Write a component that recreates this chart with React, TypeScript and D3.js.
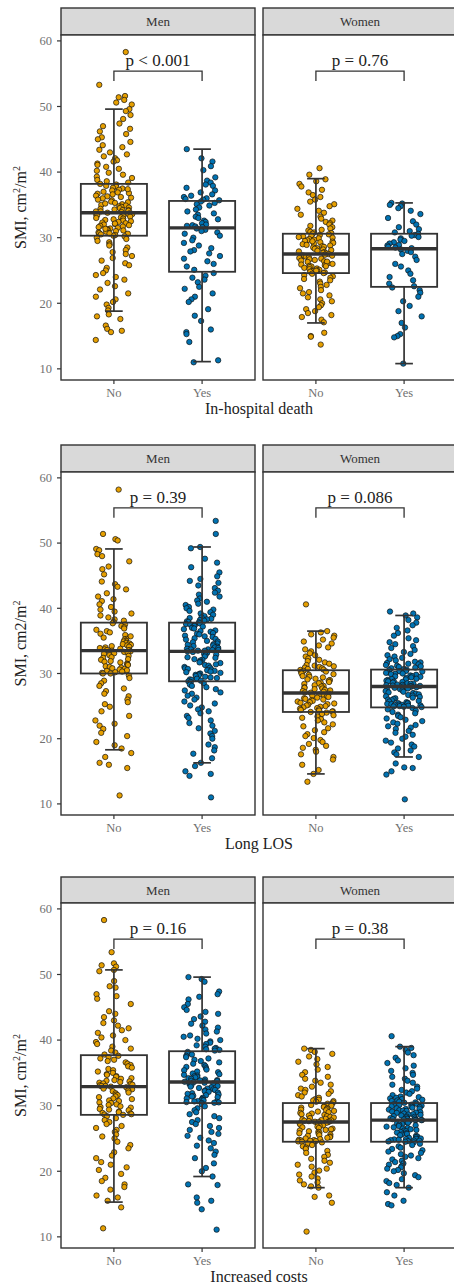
import React from "react";
import * as d3 from "d3";

// ---------- data ----------
const categories = ["No", "Yes"];
const facets = ["Men", "Women"];
const yTicks = [10, 20, 30, 40, 50, 60];
const fills = ["#E69F00", "#0072B2"];

// In-hospital death
const deathMenNo = [58.3, 53.3, 51.6, 51.4, 51.0, 50.6, 50.3, 49.6, 49.3, 48.7, 48.1, 47.4, 47.0, 46.6, 46.2, 45.8, 45.3, 45.0, 44.6, 44.1, 43.8, 43.4, 43.0, 42.7, 42.4, 42.1,
  41.8, 41.6, 41.3, 41.1, 40.8, 40.5, 40.2, 39.9, 39.6, 39.3, 39.1, 38.8, 38.6, 38.4,
  38.2, 38.1, 37.9, 37.8, 37.6, 37.5, 37.3, 37.2, 37.0, 36.9, 36.7, 36.6, 36.4, 36.3, 36.1, 36.0, 35.8, 35.7, 35.5, 35.4, 35.3, 35.1, 35.0, 34.9, 34.8, 34.7, 34.6, 34.5, 34.4, 34.3, 34.2, 34.2, 34.1, 34.0, 34.0, 33.9, 35.2, 36.2, 36.8, 37.4,
  33.8, 33.7, 33.6, 33.6, 33.5, 33.4, 33.3, 33.2, 33.1, 33.0, 32.9, 32.8, 32.7, 32.6, 32.5, 32.4, 32.3, 32.2, 32.1, 32.0, 31.9, 31.8, 31.7, 31.6, 31.5, 31.4, 31.3, 31.2, 31.1, 31.0, 30.9, 30.8, 30.7, 30.6, 30.5, 30.4, 30.3, 32.15, 31.35, 30.65,
  30.2, 30.0, 29.8, 29.5, 29.3, 29.0, 28.8, 28.5, 28.1, 27.8, 27.5, 27.2, 26.9, 26.5, 26.1, 25.8, 25.4, 25.0, 24.6, 24.3, 24.0, 23.6, 23.1, 22.6, 22.1, 21.5, 21.0, 20.6, 20.2, 19.8, 19.3, 18.9, 18.3, 18.0, 17.6, 16.6, 16.1, 15.8, 15.6, 14.4];
const deathMenYes = [43.5, 42.1, 41.6, 40.9, 40.3, 39.2, 38.7, 38.4, 38.1, 37.9, 37.6, 37.2, 36.9, 36.6, 36.4, 36.2, 36.0, 35.9, 35.8, 35.7,
  35.5, 35.3, 35.1, 34.9, 34.6, 34.3, 34.0, 33.7, 33.5, 33.2, 33.0, 32.8, 32.6, 32.4, 32.2, 32.0, 31.9, 31.8, 31.7, 31.6,
  31.4, 31.2, 31.0, 30.8, 30.6, 30.3, 30.0, 29.6, 29.2, 28.8, 28.4, 28.1, 27.9, 27.6, 27.2, 26.8, 26.4, 26.0, 25.6, 25.1,
  24.6, 24.2, 23.9, 23.6, 23.2, 22.5, 22.2, 21.5, 21.0, 20.6, 20.2, 19.1, 18.1, 17.3, 16.0, 15.6, 15.3, 14.1, 11.3, 11.0];
const deathWomenNo = [40.6, 39.6, 38.9, 38.6, 38.2, 37.8, 37.3, 36.9, 36.5, 36.2, 35.8, 35.5, 35.1, 34.8, 34.4, 34.1, 33.8, 33.5, 33.2, 32.9, 32.6, 32.4, 32.2, 32.0, 31.8, 31.6, 31.4, 31.2, 31.1, 30.9, 30.8, 30.7,
  30.6, 30.5, 30.4, 30.3, 30.2, 30.1, 30.0, 29.9, 29.8, 29.7, 29.6, 29.5, 29.4, 29.3, 29.2, 29.1, 29.0, 28.9, 28.8, 28.7, 28.6, 28.5, 28.4, 28.3, 28.2, 28.1, 28.0, 27.9, 27.8, 27.7, 27.6, 27.5, 29.45,
  27.4, 27.3, 27.2, 27.1, 27.0, 26.9, 26.8, 26.7, 26.6, 26.5, 26.4, 26.3, 26.2, 26.1, 26.0, 25.9, 25.8, 25.7, 25.6, 25.5, 25.4, 25.3, 25.2, 25.1, 25.0, 24.9, 24.8, 24.7, 24.6, 26.35, 25.65, 24.95, 27.25,
  24.5, 24.3, 24.1, 23.9, 23.7, 23.5, 23.3, 23.0, 22.8, 22.5, 22.3, 22.0, 21.7, 21.5, 21.2, 20.9, 20.6, 20.3, 20.0, 19.7, 19.4, 19.1, 18.8, 18.5, 18.2, 17.9, 17.5, 17.1, 15.5, 15.0, 14.9, 13.7];
const deathWomenYes = [35.3, 35.2, 35.0, 34.8, 34.5, 34.1, 33.6, 33.0, 32.5, 32.0, 31.6, 31.3, 31.0, 30.8,
  30.6, 30.4, 30.3, 30.1, 29.9, 29.7, 29.5, 29.3, 29.1, 28.9, 28.8, 28.6, 28.5, 28.4,
  28.2, 28.0, 27.8, 27.5, 27.1, 26.6, 26.0, 25.6, 25.0, 24.5, 24.0, 23.5, 23.0, 22.6,
  22.4, 22.0, 21.6, 21.0, 20.3, 19.6, 18.8, 18.0, 17.0, 16.3, 15.3, 15.0, 14.8, 10.8];

// Long LOS
const losMenNo = [58.2, 51.4, 50.6, 50.4, 49.1, 48.9, 48.3, 48.0, 47.2, 46.4, 46.0, 45.2, 44.1, 43.7, 43.3, 42.9, 42.3, 41.8, 41.4, 41.1, 40.6, 40.2, 39.8, 39.5, 39.2, 38.9, 38.6, 38.3, 38.1, 37.9,
  37.7, 37.5, 37.3, 37.1, 36.9, 36.7, 36.5, 36.3, 36.1, 35.9, 35.7, 35.5, 35.3, 35.2, 35.0, 34.9, 34.7, 34.6, 34.5, 34.4, 34.3, 34.2, 34.1, 34.0, 33.9, 33.8, 33.7, 33.6, 33.6, 33.5,
  33.4, 33.3, 33.2, 33.1, 33.0, 32.8, 32.7, 32.5, 32.4, 32.2, 32.1, 31.9, 31.8, 31.7, 31.5, 31.4, 31.3, 31.1, 31.0, 30.9, 30.8, 30.7, 30.6, 30.5, 30.4, 30.3, 30.2, 30.1, 30.0, 30.0,
  29.7, 29.3, 28.9, 28.5, 28.1, 27.7, 27.3, 26.9, 26.5, 26.0, 25.6, 25.3, 24.9, 24.2, 23.5, 22.8, 22.3, 22.0, 21.5, 20.9, 20.4, 19.5, 19.0, 18.5, 17.8, 17.2, 16.3, 16.0, 15.5, 11.3];
const losMenYes = [53.4, 51.4, 49.4, 49.2, 47.6, 47.0, 46.3, 45.5, 44.9, 44.5, 44.2, 43.9, 43.5, 43.1, 42.7, 42.4, 42.1, 41.8, 41.5, 41.2, 41.0, 40.7, 40.5, 40.2, 40.0, 39.8, 39.6, 39.4, 39.2, 39.0, 38.8, 38.6, 38.5, 38.4, 38.3, 38.2, 38.1, 38.0, 37.9, 37.85,
  37.7, 37.6, 37.5, 37.4, 37.3, 37.2, 37.0, 36.9, 36.8, 36.6, 36.5, 36.4, 36.2, 36.1, 36.0, 35.8, 35.7, 35.6, 35.4, 35.3, 35.2, 35.0, 34.9, 34.8, 34.6, 34.5, 34.4, 34.3, 34.2, 34.1, 34.0, 33.9, 33.8, 33.7, 33.7, 33.6, 33.6, 33.5, 33.5, 33.4,
  33.3, 33.2, 33.0, 32.9, 32.8, 32.6, 32.5, 32.4, 32.2, 32.1, 32.0, 31.8, 31.7, 31.6, 31.4, 31.3, 31.2, 31.0, 30.9, 30.8, 30.7, 30.6, 30.5, 30.4, 30.3, 30.2, 30.1, 30.0, 29.9, 29.8, 29.7, 29.6, 29.5, 29.4, 29.3, 29.2, 29.1, 29.0, 28.9, 28.8,
  28.7, 28.5, 28.3, 28.1, 27.9, 27.6, 27.4, 27.1, 26.9, 26.6, 26.3, 26.0, 25.7, 25.4, 25.1, 24.8, 24.5, 24.2, 23.9, 23.5, 23.2, 22.8, 22.4, 22.0, 21.6, 21.2, 20.8, 20.4, 20.0, 19.1, 18.7, 18.2, 17.7, 17.0, 16.3, 15.8, 15.0, 14.6, 14.3, 11.0];
const losWomenNo = [40.6, 36.5, 36.3, 36.0, 35.8, 35.5, 35.2, 34.9, 34.6, 34.3, 34.0, 33.7, 33.4, 33.1, 32.8, 32.6, 32.3, 32.1, 31.9, 31.7, 31.5, 31.3, 31.2, 31.1, 31.0, 30.9, 30.8, 30.7, 30.6, 30.55,
  30.4, 30.3, 30.2, 30.0, 29.9, 29.8, 29.6, 29.5, 29.4, 29.2, 29.1, 29.0, 28.9, 28.7, 28.6, 28.5, 28.4, 28.2, 28.1, 28.0, 27.9, 27.8, 27.7, 27.6, 27.5, 27.4, 27.3, 27.2, 27.1, 27.05,
  26.9, 26.8, 26.7, 26.6, 26.5, 26.4, 26.3, 26.2, 26.1, 26.0, 25.9, 25.8, 25.7, 25.6, 25.5, 25.4, 25.3, 25.2, 25.1, 25.0, 24.9, 24.8, 24.7, 24.6, 24.5, 24.4, 24.3, 24.2, 24.15, 24.1,
  24.0, 23.8, 23.6, 23.4, 23.2, 23.0, 22.8, 22.5, 22.2, 21.9, 21.6, 21.3, 21.0, 20.7, 20.4, 20.1, 19.8, 19.5, 19.2, 18.9, 18.6, 18.3, 18.0, 17.6, 17.2, 16.8, 16.0, 15.2, 14.6, 13.4];
const losWomenYes = [39.5, 39.2, 38.9, 38.6, 38.2, 37.8, 37.4, 37.0, 36.6, 36.2, 35.8, 35.4, 35.1, 34.8, 34.5, 34.2, 33.9, 33.6, 33.3, 33.0, 32.8, 32.6, 32.4, 32.2, 32.0, 31.8, 31.7, 31.6, 31.5, 31.4, 31.3, 31.2, 31.1, 31.0, 30.9, 30.8, 30.7,
  30.6, 30.5, 30.4, 30.35, 30.3, 30.2, 30.1, 30.0, 29.95, 29.9, 29.8, 29.7, 29.6, 29.55, 29.5, 29.4, 29.3, 29.2, 29.15, 29.1, 29.0, 28.9, 28.8, 28.75, 28.7, 28.6, 28.5, 28.45, 28.4, 28.3, 28.25, 28.2, 28.15, 28.1, 28.05, 28.0, 28.0, 28.0,
  27.9, 27.8, 27.7, 27.6, 27.5, 27.4, 27.3, 27.2, 27.1, 27.0, 26.9, 26.8, 26.7, 26.6, 26.5, 26.4, 26.3, 26.2, 26.1, 26.0, 25.9, 25.8, 25.7, 25.6, 25.5, 25.45, 25.4, 25.35, 25.3, 25.25, 25.2, 25.15, 25.1, 25.05, 25.0, 24.95, 24.9, 24.85,
  24.7, 24.5, 24.3, 24.1, 23.9, 23.7, 23.5, 23.3, 23.1, 22.9, 22.7, 22.5, 22.3, 22.1, 21.9, 21.7, 21.5, 21.2, 20.9, 20.6, 20.3, 20.0, 19.7, 19.4, 19.1, 18.8, 18.5, 18.2, 17.9, 17.6, 17.2, 16.2, 15.6, 15.5, 15.0, 14.5, 10.7];

// Increased costs
const costMenNo = [58.3, 53.4, 51.7, 51.4, 51.2, 50.7, 50.5, 49.0, 48.2, 48.0, 47.0, 46.7, 46.3, 45.5, 44.4, 44.0, 43.5, 43.0, 42.6, 42.2, 41.8, 41.5, 41.1, 40.7, 40.4, 40.0, 39.7, 39.4, 39.0, 38.7, 38.4, 38.1, 37.8,
  37.6, 37.4, 37.2, 37.0, 36.8, 36.6, 36.4, 36.2, 36.0, 35.8, 35.6, 35.4, 35.2, 35.0, 34.8, 34.7, 34.5, 34.4, 34.2, 34.1, 33.9, 33.8, 33.7, 33.6, 33.5, 33.4, 33.3, 33.2, 33.1, 33.0, 33.0, 32.9,
  32.8, 32.6, 32.5, 32.3, 32.2, 32.0, 31.9, 31.7, 31.6, 31.4, 31.3, 31.1, 31.0, 30.8, 30.7, 30.5, 30.4, 30.2, 30.1, 29.9, 29.8, 29.7, 29.5, 29.4, 29.3, 29.1, 29.0, 28.9, 28.8, 28.7, 28.65, 28.6,
  28.4, 28.1, 27.8, 27.5, 27.2, 26.9, 26.6, 26.3, 26.0, 25.6, 25.3, 25.0, 24.5, 24.0, 23.5, 22.9, 22.4, 22.0, 21.4, 21.0, 20.6, 20.2, 19.6, 19.0, 18.5, 18.0, 17.6, 17.2, 16.3, 16.0, 15.5, 14.5, 11.3];
const costMenYes = [49.6, 49.3, 48.9, 47.4, 47.0, 46.6, 46.2, 45.5, 45.0, 44.6, 44.3, 44.0, 43.6, 43.2, 42.8, 42.5, 42.2, 41.9, 41.6, 41.3, 41.0, 40.7, 40.5, 40.2, 40.0, 39.8, 39.6, 39.4, 39.2, 39.0, 38.8, 38.7, 38.6, 38.5, 38.4,
  38.2, 38.0, 37.8, 37.6, 37.4, 37.2, 37.0, 36.8, 36.6, 36.4, 36.2, 36.0, 35.9, 35.7, 35.5, 35.4, 35.2, 35.1, 34.9, 34.8, 34.7, 34.6, 34.5, 34.4, 34.3, 34.2, 34.1, 34.0, 33.9, 33.85, 33.8, 33.75, 33.7, 33.65, 33.6,
  33.5, 33.4, 33.3, 33.2, 33.1, 33.0, 32.9, 32.8, 32.7, 32.6, 32.5, 32.4, 32.3, 32.2, 32.1, 32.0, 31.9, 31.8, 31.7, 31.6, 31.5, 31.4, 31.3, 31.2, 31.1, 31.0, 30.9, 30.8, 30.7, 30.65, 30.6, 30.55, 30.5, 30.45, 30.4,
  30.2, 29.9, 29.6, 29.3, 29.0, 28.7, 28.4, 28.1, 27.8, 27.5, 27.2, 26.9, 26.6, 26.3, 26.0, 25.7, 25.4, 25.1, 24.7, 24.3, 23.9, 23.5, 23.0, 22.5, 22.0, 21.2, 20.5, 20.0, 19.2, 18.0, 17.9, 16.0, 15.5, 15.2, 14.2, 11.1];
const costWomenNo = [38.7, 38.5, 38.2, 37.9, 37.5, 37.1, 36.7, 36.3, 35.9, 35.5, 35.1, 34.7, 34.4, 34.1, 33.8, 33.5, 33.2, 32.9, 32.6, 32.4, 32.2, 32.0, 31.8, 31.6, 31.4, 31.2, 31.0, 30.9, 30.8, 30.7, 30.6, 30.5,
  30.3, 30.2, 30.1, 30.0, 29.9, 29.8, 29.7, 29.6, 29.5, 29.4, 29.3, 29.2, 29.1, 29.0, 28.9, 28.8, 28.7, 28.6, 28.5, 28.4, 28.3, 28.2, 28.1, 28.0, 27.9, 27.8, 27.75, 27.7, 27.65, 27.6, 27.55, 27.5, 27.5,
  27.4, 27.3, 27.2, 27.1, 27.0, 26.9, 26.8, 26.7, 26.6, 26.5, 26.4, 26.3, 26.2, 26.1, 26.0, 25.9, 25.8, 25.7, 25.6, 25.5, 25.4, 25.3, 25.2, 25.1, 25.0, 24.9, 24.8, 24.75, 24.7, 24.65, 24.6, 24.55, 24.5,
  24.4, 24.2, 24.0, 23.8, 23.6, 23.4, 23.1, 22.8, 22.5, 22.2, 21.9, 21.6, 21.3, 21.0, 20.7, 20.4, 20.1, 19.8, 19.5, 19.2, 18.9, 18.6, 18.3, 18.0, 17.7, 17.5, 16.3, 16.1, 15.2, 10.8];
const costWomenYes = [40.6, 39.0, 38.8, 38.5, 38.1, 37.7, 37.3, 36.9, 36.5, 36.1, 35.7, 35.3, 35.0, 34.7, 34.4, 34.1, 33.8, 33.5, 33.2, 32.9, 32.6, 32.4, 32.2, 32.0, 31.8, 31.6, 31.4, 31.3, 31.2, 31.1, 31.0, 30.9, 30.8, 30.7, 30.6, 30.5, 30.45,
  30.3, 30.2, 30.15, 30.1, 30.0, 29.9, 29.85, 29.8, 29.7, 29.6, 29.55, 29.5, 29.4, 29.3, 29.25, 29.2, 29.1, 29.0, 28.95, 28.9, 28.8, 28.7, 28.65, 28.6, 28.5, 28.4, 28.35, 28.3, 28.2, 28.1, 28.05, 28.0, 27.95, 27.9, 27.85, 27.8, 27.8, 27.8,
  27.7, 27.6, 27.5, 27.4, 27.3, 27.2, 27.1, 27.0, 26.9, 26.8, 26.7, 26.6, 26.5, 26.4, 26.3, 26.2, 26.1, 26.0, 25.9, 25.8, 25.7, 25.6, 25.5, 25.4, 25.3, 25.2, 25.1, 25.0, 24.95, 24.9, 24.85, 24.8, 24.75, 24.7, 24.65, 24.6, 24.55, 24.5,
  24.4, 24.2, 24.0, 23.8, 23.6, 23.4, 23.2, 23.0, 22.8, 22.6, 22.4, 22.2, 22.0, 21.8, 21.6, 21.4, 21.2, 21.0, 20.8, 20.6, 20.4, 20.2, 20.0, 19.7, 19.4, 19.1, 18.8, 18.5, 18.2, 17.9, 17.5, 16.8, 16.3, 15.5, 15.0, 14.8];

// box statistics: [lower whisker, Q1, median, Q3, upper whisker]
const deathBoxes = [[18.8, 30.3, 33.8, 38.2, 49.6], [11.1, 24.8, 31.5, 35.6, 43.5], [17.0, 24.6, 27.5, 30.6, 39.0], [10.8, 22.5, 28.3, 30.6, 35.3]];
const losBoxes = [[18.3, 30.0, 33.5, 37.8, 49.1], [16.3, 28.8, 33.4, 37.8, 49.4], [14.6, 24.1, 27.0, 30.5, 36.5], [17.2, 24.8, 28.0, 30.6, 38.9]];
const costBoxes = [[15.3, 28.6, 32.9, 37.7, 50.7], [19.2, 30.4, 33.6, 38.3, 49.6], [17.5, 24.5, 27.5, 30.4, 38.7], [17.5, 24.5, 27.8, 30.4, 39.0]];

const deathP = ["p < 0.001", "p = 0.76"];
const losP = ["p = 0.39", "p = 0.086"];
const costP = ["p = 0.16", "p = 0.38"];

const rowTitles = ["In-hospital death", "Long LOS", "Increased costs"];

// ---------- layout ----------
const W = 454;
const H = 1286;
const FONT = "'Liberation Serif', 'Times New Roman', serif";
const panelXs: [number, number][] = [[61, 255], [263, 457]];
const rowLayout = [
  { stripTop: 8, top: 35, bottom: 380 },
  { stripTop: 445, top: 472, bottom: 815 },
  { stripTop: 877, top: 903, bottom: 1248 },
];
const yDomain: [number, number] = [8.3, 60.9];
const bracketTop = 55.4;
const bracketLeg = 53.9;

const rows = [
  { title: rowTitles[0], supFirst: true, data: [[deathMenNo, deathMenYes], [deathWomenNo, deathWomenYes]], boxes: deathBoxes, p: deathP },
  { title: rowTitles[1], supFirst: false, data: [[losMenNo, losMenYes], [losWomenNo, losWomenYes]], boxes: losBoxes, p: losP },
  { title: rowTitles[2], supFirst: true, data: [[costMenNo, costMenYes], [costWomenNo, costWomenYes]], boxes: costBoxes, p: costP },
];

function hash(i: number, seed: number) {
  const s = Math.sin(i * 127.1 + seed * 311.7) * 43758.5453;
  return s - Math.floor(s);
}

const LINE = "#333333";

export default function App() {
  return (
    <svg width={W} height={H} style={{ display: "block", position: "absolute", left: 0, top: 0 }} fontFamily={FONT}>
      <rect x={0} y={0} width={W} height={H} fill="#ffffff" />
      {rows.map((row, ri) => {
        const L = rowLayout[ri];
        const y = d3.scaleLinear().domain(yDomain).range([L.bottom, L.top]);
        const midY = (L.top + L.bottom) / 2;
        return (
          <g key={ri}>
            {/* y axis title */}
            <text transform={`translate(26,${midY}) rotate(-90)`} textAnchor="middle" fontSize={16} fill="#222">
              {row.supFirst ? (
                <>
                  <tspan>SMI, cm</tspan>
                  <tspan dy={-6} fontSize={10}>2</tspan>
                  <tspan dy={6}>/m</tspan>
                  <tspan dy={-6} fontSize={10}>2</tspan>
                </>
              ) : (
                <>
                  <tspan>SMI, cm2/m</tspan>
                  <tspan dy={-6} fontSize={10}>2</tspan>
                </>
              )}
            </text>
            {/* y ticks */}
            {yTicks.map((t) => (
              <g key={t}>
                <line x1={57} x2={61} y1={y(t)} y2={y(t)} stroke={LINE} strokeWidth={1.2} />
                <text x={52} y={y(t)} dy="0.35em" textAnchor="end" fontSize={12.5} fill="#707070">{t}</text>
              </g>
            ))}
            {facets.map((f, fi) => {
              const [x0, x1] = panelXs[fi];
              const x = d3.scalePoint<string>().domain(categories).range([x0, x1]).padding(0.6);
              const step = x.step();
              const jw = 0.21 * step;
              const bw = 0.75 * step;
              const cw = 0.2 * step;
              const xa = x(categories[0]) as number;
              const xb = x(categories[1]) as number;
              return (
                <g key={f}>
                  {/* strip */}
                  <rect x={x0} y={L.stripTop} width={x1 - x0} height={L.top - L.stripTop} fill="#d9d9d9" stroke={LINE} strokeWidth={1.4} />
                  <text x={(x0 + x1) / 2} y={(L.stripTop + L.top) / 2} dy="0.35em" textAnchor="middle" fontSize={13} fill="#333">{f}</text>
                  {/* panel */}
                  <rect x={x0} y={L.top} width={x1 - x0} height={L.bottom - L.top} fill="#ffffff" stroke={LINE} strokeWidth={1.4} />
                  {/* points */}
                  {categories.map((c, ci) => {
                    const cx = x(c) as number;
                    const vals = row.data[fi][ci];
                    return (
                      <g key={c}>
                        {vals.map((v, i) => (
                          <circle key={i} cx={cx + (hash(i, ri * 4 + fi * 2 + ci + 1) * 2 - 1) * jw} cy={y(v)} r={2.7}
                            fill={fills[ci]} stroke="#111" strokeWidth={0.7} />
                        ))}
                      </g>
                    );
                  })}
                  {/* boxes */}
                  {categories.map((c, ci) => {
                    const cx = x(c) as number;
                    const [lo, q1, med, q3, hi] = row.boxes[fi * 2 + ci];
                    return (
                      <g key={"b" + c} stroke={LINE} fill="none">
                        <line x1={cx} x2={cx} y1={y(hi)} y2={y(q3)} strokeWidth={1.7} />
                        <line x1={cx} x2={cx} y1={y(q1)} y2={y(lo)} strokeWidth={1.7} />
                        <line x1={cx - cw / 2} x2={cx + cw / 2} y1={y(hi)} y2={y(hi)} strokeWidth={1.7} />
                        <line x1={cx - cw / 2} x2={cx + cw / 2} y1={y(lo)} y2={y(lo)} strokeWidth={1.7} />
                        <rect x={cx - bw / 2} y={y(q3)} width={bw} height={y(q1) - y(q3)} strokeWidth={1.8} />
                        <line x1={cx - bw / 2} x2={cx + bw / 2} y1={y(med)} y2={y(med)} strokeWidth={3.4} />
                      </g>
                    );
                  })}
                  {/* bracket */}
                  <path d={`M${xa},${y(bracketLeg)}V${y(bracketTop)}H${xb}V${y(bracketLeg)}`} fill="none" stroke={LINE} strokeWidth={1.3} />
                  <text x={(xa + xb) / 2} y={y(bracketTop) - 5} textAnchor="middle" fontSize={17} fill="#222">{row.p[fi]}</text>
                  {/* x ticks */}
                  {categories.map((c) => (
                    <g key={"t" + c}>
                      <line x1={x(c) as number} x2={x(c) as number} y1={L.bottom} y2={L.bottom + 4} stroke={LINE} strokeWidth={1.2} />
                      <text x={x(c) as number} y={L.bottom + 17} textAnchor="middle" fontSize={12.5} fill="#707070">{c}</text>
                    </g>
                  ))}
                </g>
              );
            })}
            <text x={(panelXs[0][0] + panelXs[1][1]) / 2} y={L.bottom + 34} textAnchor="middle" fontSize={16} fill="#222">{row.title}</text>
          </g>
        );
      })}
    </svg>
  );
}
